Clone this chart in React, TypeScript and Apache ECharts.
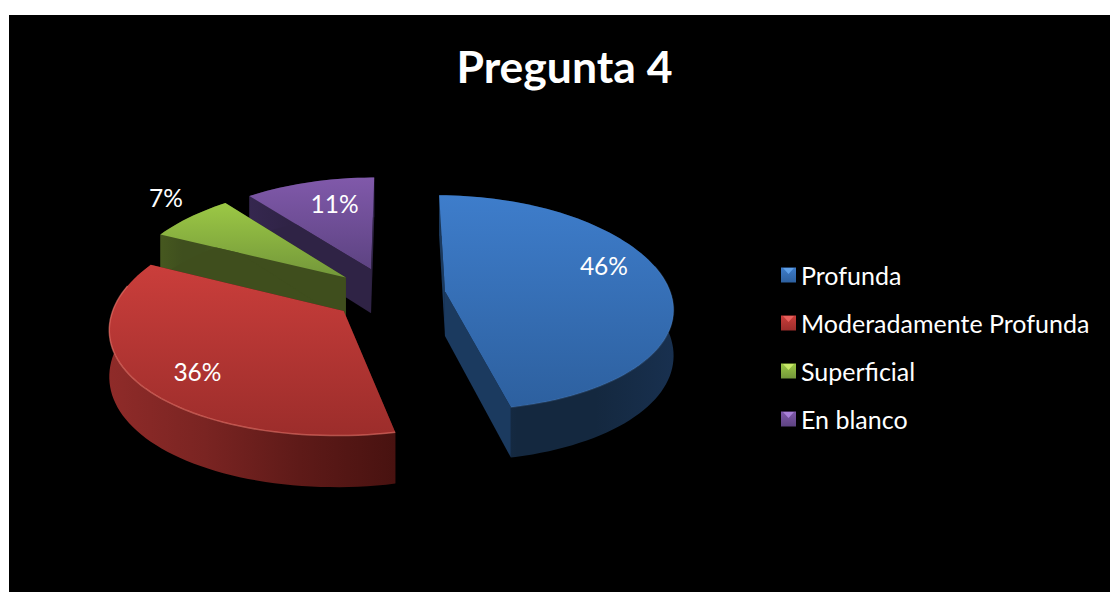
import React, { useEffect, useRef } from "react";
import * as echarts from "echarts";

const titleText = "Pregunta 4";
const categories = ["Profunda", "Moderadamente Profunda", "Superficial", "En blanco"];
const values = [46.4, 35.7, 7.1, 10.8];
const topColors = [["#3e7dcb", "#2d609f"], ["#ca3e3b", "#9c2d2b"], ["#9cc845", "#73973a"], ["#8059aa", "#5d4382"]];
const legendHighlights = ["#5fa0e8", "#e8605c", "#c8e868", "#a880d8"];
const outerWallColors = [
  ["#1a3759", "#14283f", "#14283f", "#18304f"],
  ["#8f2b29", "#7a2422", "#5e1a18", "#481210"],
  ["#46581f", "#3f4f1e", "#3f4f1e", "#46581f"],
  ["#35274f", "#2f2345", "#2f2345", "#35274f"],
];
const radialWallColors = ["#1b3a5f", "#4f1513", "#3f4e1d", "#2f2345"];
const rimColors = ["rgba(110,160,220,0.18)", "rgba(235,120,110,0.6)", "rgba(180,220,100,0.2)", "rgba(160,120,210,0.2)"];
const labelAngles = [71.4, 228, 312.4, 344.7];
const labelRadii = [0.78, 0.77, 1.26, 0.72];
const zOrder = [30, 40, 20, 10];

const START_ANGLE = 0.3;
const EXPLODE = 0.25;
const X0 = 380;
const Y0 = 279;
const A = 226;
const B = 107;
const KX = 0.14;
const KY = 0.11;
const DEPTH = 45;
const FONT = "Lato, 'Open Sans', sans-serif";
const LEGEND_LEFT = 767;
const LEGEND_TOP = 242;
const LEGEND_ICON_X = 772;
const LEGEND_ICON_Y = 253;
const LEGEND_STEP = 48;

const total = values.reduce((s, x) => s + x, 0);
const rad = (d: number) => (d * Math.PI) / 180;

function project(u: number, v: number, drop = 0): number[] {
  const denY = 1 + KY * v;
  return [X0 + (A * u) / (1 + KX * v), Y0 - (B * v) / denY + (drop * DEPTH) / denY];
}

function vgrad(c: string[]) {
  return new echarts.graphic.LinearGradient(0, 0, 0, 1, [
    { offset: 0, color: c[0] },
    { offset: 1, color: c[1] },
  ]);
}
function hgrad(c: string[]) {
  return new echarts.graphic.LinearGradient(0, 0, 1, 0, c.map((color, i) => ({ offset: i / (c.length - 1), color })));
}

function renderSlice(index: number) {
  const before = values.slice(0, index).reduce((s, x) => s + x, 0);
  const a0 = START_ANGLE + (before / total) * 360;
  const a1 = a0 + (values[index] / total) * 360;
  const mid = (a0 + a1) / 2;
  const ou = EXPLODE * Math.sin(rad(mid));
  const ov = EXPLODE * Math.cos(rad(mid));
  const arc: number[][] = [];
  for (let a = a0; a < a1; a += 2) arc.push([ou + Math.sin(rad(a)), ov + Math.cos(rad(a)), a]);
  arc.push([ou + Math.sin(rad(a1)), ov + Math.cos(rad(a1)), a1]);
  const top = arc.map((p) => project(p[0], p[1]));
  const bottom = arc.map((p) => project(p[0], p[1], 1));
  const apexTop = project(ou, ov);
  const apexBottom = project(ou, ov, 1);
  const z = zOrder[index];
  const front = arc.filter((p) => Math.cos(rad(p[2])) < 0.25).map((p) => project(p[0], p[1]));
  const lab = project(
    ou + labelRadii[index] * Math.sin(rad(labelAngles[index])),
    ov + labelRadii[index] * Math.cos(rad(labelAngles[index]))
  );
  const children: any[] = [
    {
      type: "polygon",
      z2: z,
      shape: { points: [apexTop, top[0], bottom[0], apexBottom] },
      style: { fill: radialWallColors[index] },
    },
    {
      type: "polygon",
      z2: z,
      shape: { points: [apexTop, top[top.length - 1], bottom[bottom.length - 1], apexBottom] },
      style: { fill: radialWallColors[index] },
    },
    {
      type: "polygon",
      z2: z + 1,
      shape: { points: [...top, ...bottom.slice().reverse()] },
      style: { fill: hgrad(outerWallColors[index]) },
    },
    {
      type: "polygon",
      z2: z + 2,
      shape: { points: [apexTop, ...top] },
      style: { fill: vgrad(topColors[index]) },
    },
    {
      type: "polyline",
      z2: z + 3,
      shape: { points: front },
      style: { stroke: rimColors[index], lineWidth: 1.5, fill: "none" },
    },
    {
      type: "text",
      z2: 100,
      style: {
        text: `${Math.round(values[index])}%`,
        x: lab[0],
        y: lab[1],
        fill: "#ffffff",
        font: `24.5px ${FONT}`,
        align: "center",
        verticalAlign: "middle",
      },
    },
  ];
  return { type: "group", children };
}

export default function App() {
  const ref = useRef<HTMLDivElement>(null);
  useEffect(() => {
    const chart = echarts.init(ref.current!, null, { renderer: "svg" });
    chart.setOption({
      animation: false,
      backgroundColor: "#000000",
      title: {
        text: titleText,
        left: 550.5,
        top: 23,
        textAlign: "center",
        textStyle: { color: "#ffffff", fontFamily: FONT, fontWeight: "bold", fontSize: 44.5 },
      },
      legend: {
        orient: "vertical",
        left: LEGEND_LEFT,
        top: LEGEND_TOP,
        itemWidth: 15,
        itemHeight: 15,
        itemGap: 22,
        selectedMode: false,
        textStyle: { color: "#ffffff", fontFamily: FONT, fontSize: 25, lineHeight: 26 },
        data: categories.map((name, i) => ({
          name,
          icon: "rect",
          itemStyle: { color: vgrad(topColors[i]) },
        })),
      },
      graphic: legendHighlights.map((fill, i) => ({
        type: "polygon",
        z: 50,
        shape: {
          points: [
            [LEGEND_ICON_X + 2, LEGEND_ICON_Y + i * LEGEND_STEP],
            [LEGEND_ICON_X + 13, LEGEND_ICON_Y + i * LEGEND_STEP],
            [LEGEND_ICON_X + 7.5, LEGEND_ICON_Y + i * LEGEND_STEP + 6],
          ],
        },
        style: { fill },
      })),
      series: categories.map((name, i) => ({
        type: "custom",
        name,
        coordinateSystem: "none",
        silent: true,
        itemStyle: { color: topColors[i][0] },
        data: [[values[i]]],
        renderItem: () => renderSlice(i),
      })),
    });
    return () => chart.dispose();
  }, []);
  return (
    <div style={{ position: "absolute", left: 0, top: 0, width: 1110, height: 592, background: "#fff", overflow: "hidden" }}>
      <div ref={ref} style={{ position: "absolute", left: 9, top: 15, width: 1101, height: 577 }} />
    </div>
  );
}
